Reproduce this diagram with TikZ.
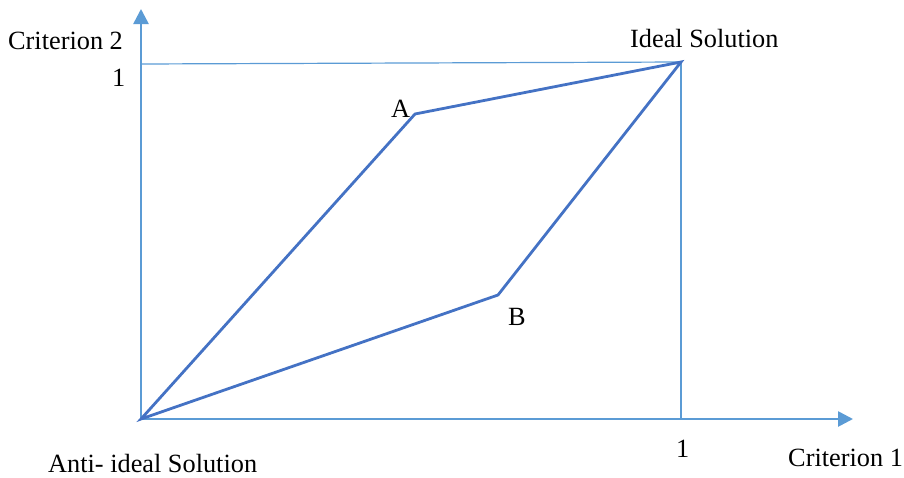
\documentclass[tikz,border=0pt]{standalone}
\usepackage{fontspec}
\setmainfont{Liberation Serif}
\usetikzlibrary{arrows.meta}
\definecolor{axisblue}{HTML}{5B9BD5}
\definecolor{pathblue}{HTML}{4472C4}
\begin{document}
\begin{tikzpicture}[x=1pt,y=-1pt,
  axis/.style={draw=axisblue,line width=2.6pt,-{Triangle[length=15pt,width=15pt]}},
  guide/.style={draw=axisblue,line width=1.2pt},
  route/.style={draw=pathblue,line width=2.8pt,line join=miter},
  lbl/.style={inner sep=0pt,anchor=base west,font=\fontsize{26.3}{31}\selectfont}]
\useasboundingbox (0,0) rectangle (904,477);
\coordinate (O) at (141,419);
\coordinate (Ytip) at (141,9);
\coordinate (Xtip) at (853,419);
\coordinate (I) at (681,62);
\coordinate (Yone) at (141,64);
\coordinate (Xone) at (681,419);
\coordinate (A) at (415,114);
\coordinate (B) at (498,295);
\draw[guide] (Yone) -- (I);
\draw[guide] (I) -- (Xone);
\draw[axis] (O) -- (Ytip);
\draw[axis] (O) -- (Xtip);
\draw[route] (O) -- (A) -- (I) -- (B) -- cycle;
\node[lbl] (c2) at (8,49) {Criterion 2};
\node[lbl] (y1) at (112,86) {1};
\node[lbl] (ideal) at (630,47) {Ideal Solution};
\node[lbl] (la) at (391,117) {A};
\node[lbl] (lb) at (508,325) {B};
\node[lbl] (anti) at (48,472) {Anti- ideal Solution};
\node[lbl] (x1) at (676,457) {1};
\node[lbl] (c1) at (788,466) {Criterion 1};
\end{tikzpicture}
\end{document}
